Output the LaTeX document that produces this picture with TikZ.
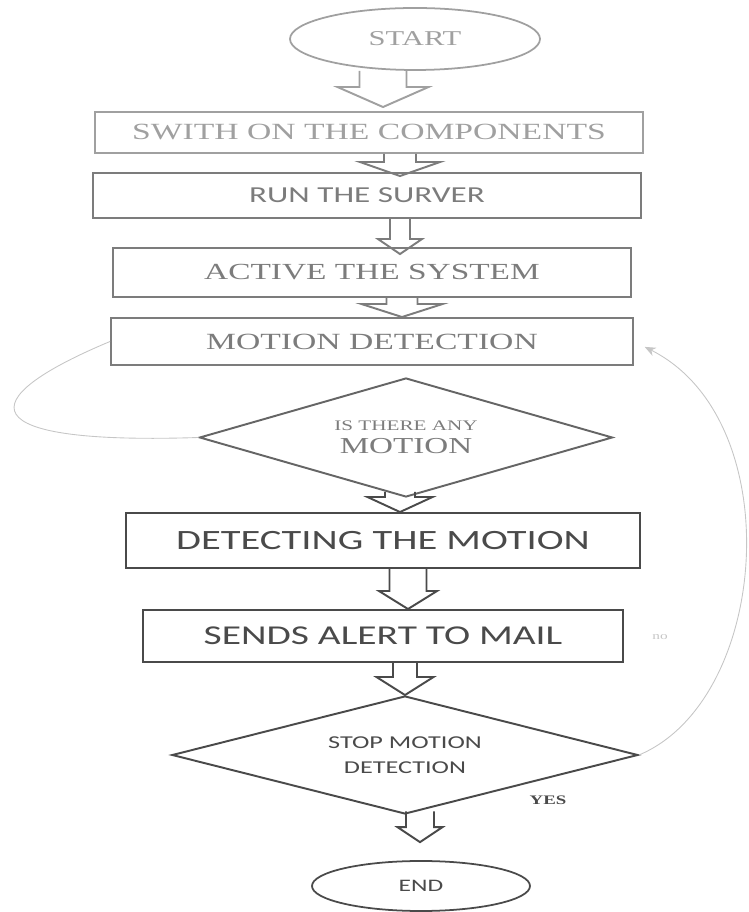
\documentclass[tikz,border=0pt]{standalone}
\usepackage{fontspec}
\newfontfamily\serifwide[FakeStretch=1.45]{Liberation Serif}
\newfontfamily\sanswide[FakeStretch=1.45]{Carlito}
\usetikzlibrary{shapes.geometric,arrows.meta,calc}

\definecolor{paleink}{HTML}{A0A0A0}
\definecolor{midink}{HTML}{7C7C7C}
\definecolor{darkink}{HTML}{4A4A4A}
\definecolor{faintink}{HTML}{C6C6C6}

% hollow block arrow: style, top point, tip point, shaft half, head half, head length
\newcommand{\blkarrow}[6]{%
  \draw[#1] let \p1=#2, \p2=#3 in
    (\x2-#4,\y1) -- (\x2-#4,\y2+#6) -- (\x2-#5,\y2+#6) -- (\x2,\y2)
    -- (\x2+#5,\y2+#6) -- (\x2+#4,\y2+#6) -- (\x2+#4,\y1);}

\tikzset{
  stepbox/.style={draw, rectangle, line width=1.1pt, inner sep=0pt},
  decision/.style={draw, diamond, aspect=3.5, line width=1.1pt, inner sep=0pt, align=center},
  terminal/.style={draw, ellipse, line width=1pt, inner sep=0pt},
  blk/.style={line width=1.1pt, line join=miter},
  thinline/.style={line width=0.5pt, draw=faintink},
}

\begin{document}
\begin{tikzpicture}
        \useasboundingbox (0,0) rectangle (14.98,18.24);
        % steps
        \node[terminal, draw=paleink, text=paleink, minimum width=5cm, minimum height=1.24cm,
              font=\serifwide\fontsize{12}{14}\selectfont] (start) at (8.30,17.46) {START};
        \node[stepbox, draw=paleink, text=paleink, minimum width=10.96cm, minimum height=0.82cm,
              font=\serifwide\fontsize{13.2}{15}\selectfont] (switchon) at (7.38,15.59) {SWITH ON THE COMPONENTS};
        \node[stepbox, draw=midink, text=midink, minimum width=10.96cm, minimum height=0.9cm,
              font=\sanswide\fontsize{13}{15}\selectfont] (runserver) at (7.34,14.33) {RUN THE SURVER};
        \node[stepbox, draw=midink, text=midink, minimum width=10.36cm, minimum height=0.98cm,
              font=\serifwide\fontsize{13.1}{15}\selectfont] (activate) at (7.44,12.79) {ACTIVE THE SYSTEM};
        \node[stepbox, draw=midink, text=midink, minimum width=10.44cm, minimum height=0.94cm,
              font=\serifwide\fontsize{13.2}{15}\selectfont] (motiondet) at (7.44,11.41) {MOTION DETECTION};
        \node[decision, draw=darkink!85, text=midink, minimum width=8.26cm, minimum height=2.38cm,
              font=\serifwide\fontsize{13}{13}\selectfont] (anymotion) at (8.12,9.49)
              {{\fontsize{8.3}{10}\selectfont IS THERE ANY}\\MOTION};
        \node[stepbox, draw=darkink, text=darkink, minimum width=10.28cm, minimum height=1.1cm,
              font=\sanswide\fontsize{15.9}{18}\selectfont] (detecting) at (7.66,7.43) {DETECTING THE MOTION};
        \node[stepbox, draw=darkink, text=darkink, minimum width=9.6cm, minimum height=1.04cm,
              font=\sanswide\fontsize{15.5}{18}\selectfont] (sendalert) at (7.66,5.52) {SENDS ALERT TO MAIL};
        \node[decision, draw=darkink, text=darkink, minimum width=9.32cm, minimum height=2.36cm,
              font=\sanswide\fontsize{10.3}{14}\selectfont] (stopdet) at (8.10,3.14) {STOP MOTION\\DETECTION};
        \node[terminal, draw=darkink, text=darkink, minimum width=4.36cm, minimum height=1cm,
              font=\sanswide\fontsize{10}{12}\selectfont] (finish) at (8.42,0.52) {END};
        \node[text=darkink, font=\serifwide\bfseries\fontsize{7.4}{9}\selectfont] (yeslabel) at (10.96,2.24) {YES};
        \node[text=faintink, font=\serifwide\fontsize{6}{7}\selectfont] (nolabel) at (13.2,5.5) {no};

        % block arrows
        \blkarrow{blk, draw=paleink}{(7.66,0 |- start.south)}{($(7.66,0 |- switchon.north)+(0,0.08)$)}{0.47cm}{0.91cm}{0.4cm}
        \blkarrow{blk, draw=midink}{(8.0,0 |- switchon.south)}{($(8.0,0 |- runserver.north)+(0,-0.08)$)}{0.32cm}{0.8cm}{0.28cm}
        \blkarrow{blk, draw=midink}{(8.0,0 |- runserver.south)}{($(8.0,0 |- activate.north)+(0,-0.14)$)}{0.2cm}{0.44cm}{0.3cm}
        \blkarrow{blk, draw=midink}{(8.04,0 |- activate.south)}{(8.04,0 |- motiondet.north)}{0.31cm}{0.81cm}{0.26cm}
        \blkarrow{blk, draw=darkink}{($(8.0,0 |- anymotion.south)+(0,0.12)$)}{(8.0,0 |- detecting.north)}{0.3cm}{0.65cm}{0.3cm}
        \blkarrow{blk, draw=darkink}{(8.16,0 |- detecting.south)}{(8.16,0 |- sendalert.north)}{0.37cm}{0.58cm}{0.36cm}
        \blkarrow{blk, draw=darkink}{(8.10,0 |- sendalert.south)}{(8.10,0 |- stopdet.north)}{0.24cm}{0.57cm}{0.36cm}
        \blkarrow{blk, draw=darkink}{($(8.40,0 |- stopdet.south)+(0,0.07)$)}{($(8.40,0 |- finish.north)+(0,0.36)$)}{0.28cm}{0.45cm}{0.3cm}

        % loops back
        \draw[thinline] (motiondet.west) .. controls (-0.6,10.24) and (-0.6,9.34) .. (anymotion.west);
        \draw[thinline, -{Stealth[length=2.2mm,width=1.8mm]}, shorten >=0.24cm]
              (stopdet.east) .. controls (15.4,4.24) and (15.8,9.84) .. (motiondet.east);
\end{tikzpicture}
\end{document}
